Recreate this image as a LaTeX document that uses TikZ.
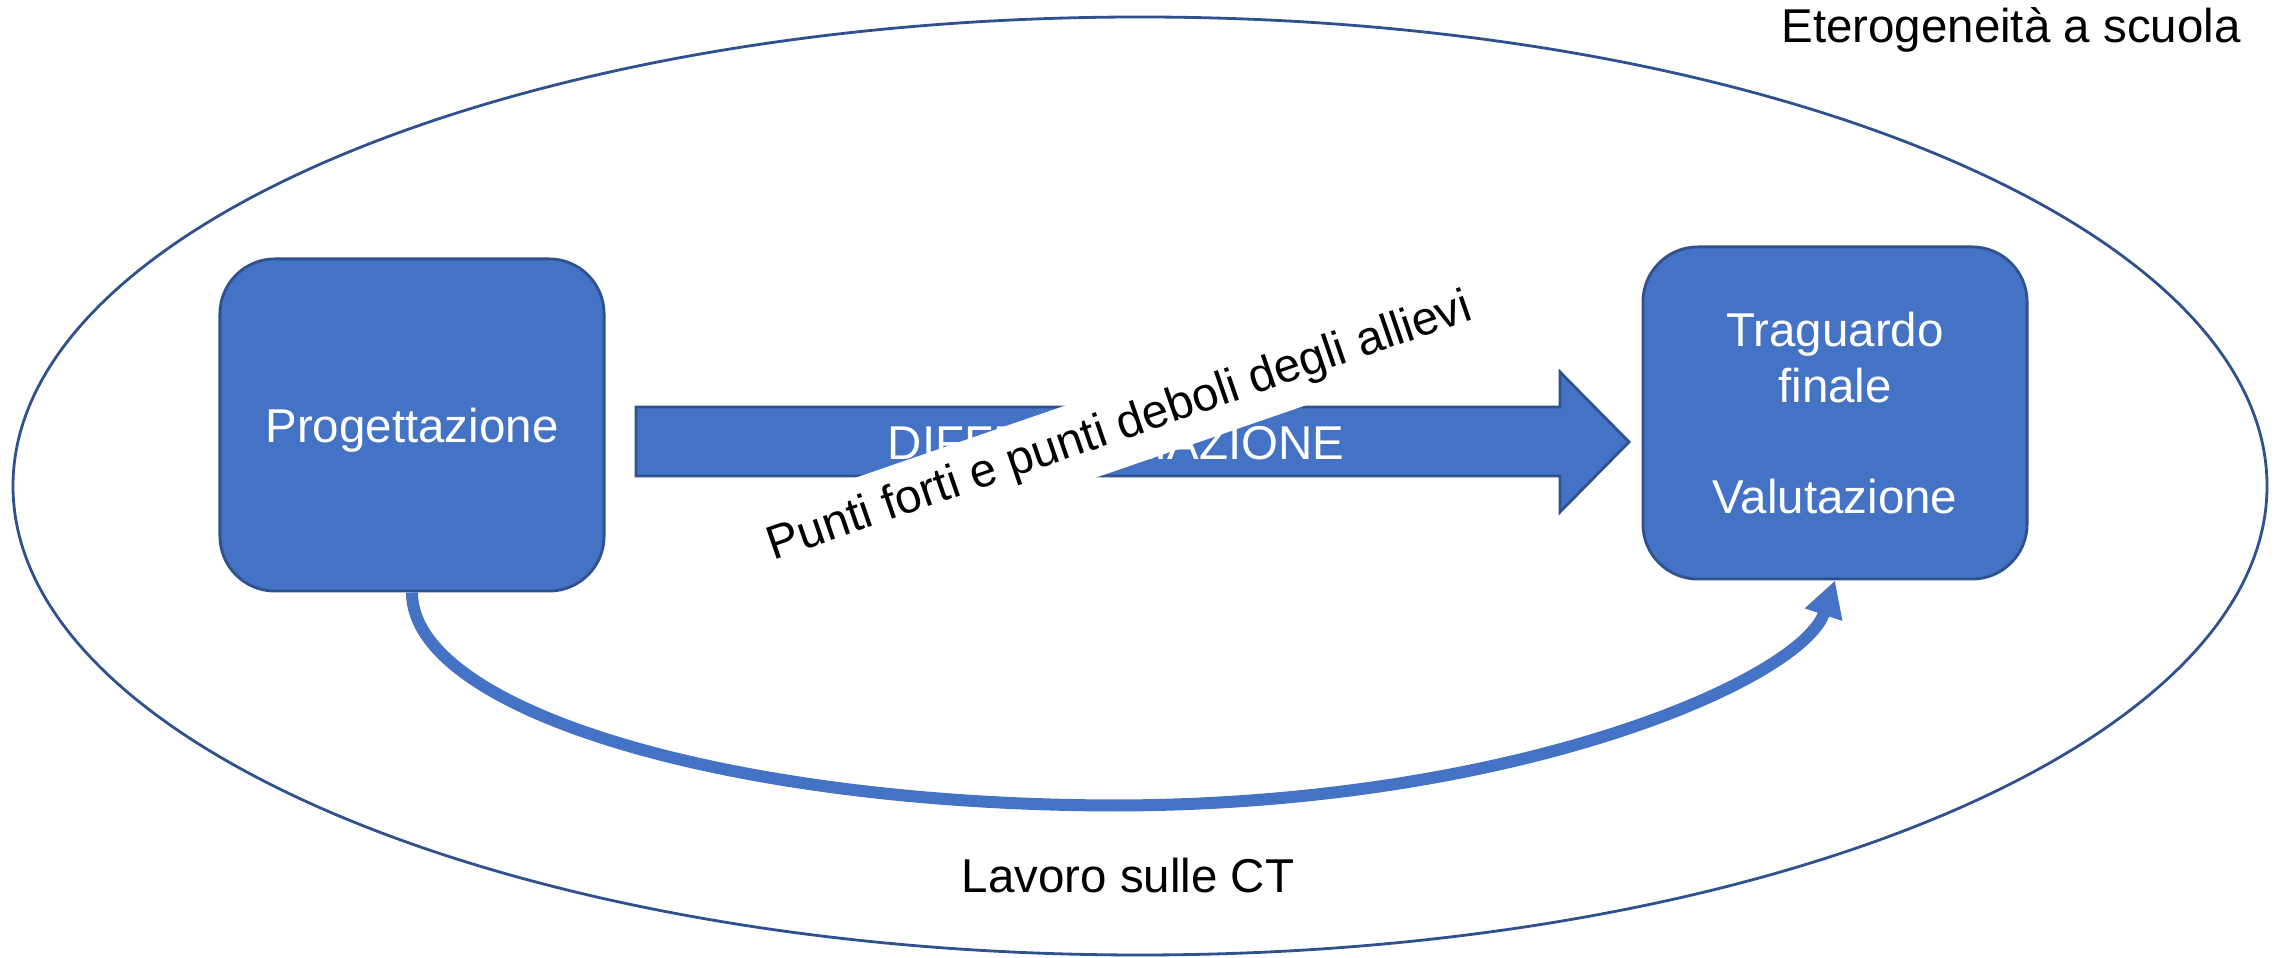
\documentclass[tikz,border=0pt]{standalone}
\usepackage{fontspec}
\setmainfont{Liberation Sans}
\usetikzlibrary{arrows.meta}
\definecolor{pfill}{HTML}{4472C4}
\definecolor{pline}{HTML}{2F528F}
\begin{document}
\begin{tikzpicture}[x=0.01cm,y=0.01cm,
  every node/.style={font=\fontsize{13.5}{15.9}\selectfont},
  blockbox/.style={draw=pline, line width=0.8pt, fill=pfill, rounded corners=0.55cm,
    minimum width=3.84cm, minimum height=3.32cm, text=white, inner sep=0pt, align=center},
  bigarrow/.style={draw=pline, line width=0.8pt, fill=pfill},
  curvearrow/.style={draw=pfill, line width=0.12cm, -{Triangle[length=0.36cm,width=0.37cm]}},
  outer/.style={draw=pline, line width=0.8pt}]
\useasboundingbox (0,0) rectangle (2282,958);
% outer ellipse
\draw[outer] (1140,472) ellipse [x radius=1127, y radius=469];
% boxes
\node[blockbox, text depth=0pt] (prog) at (412,533) {Progettazione};
\node[blockbox] (trag) at (1835,545) {Traguardo\\finale\\[15.9pt]Valutazione};
% big arrow
\draw[bigarrow] (636,551) -- (1560,551) -- (1560,586) -- (1629,516) -- (1560,446) -- (1560,482) -- (636,482) -- cycle;
\node[text=white, anchor=base] (diff) at (1116,498) {DIFFERENZIAZIONE};
% rotated label with white band
\node[rotate=19, fill=white, inner sep=0pt, minimum height=0.78cm, text=black] (punti) at (1120,530) {Punti forti e punti deboli degli allievi};
% curved arrow
\coordinate (low) at (1120,154);
\draw[curvearrow] (prog.south) arc[start angle=180, end angle=270, x radius=707, y radius=213]
  .. controls (1520,154) and (1802,279) .. (trag.south);
% labels
\node[anchor=base east] (het) at (2253,915) {Eterogeneità a scuola};
\node[anchor=base] (lav) at (1128,65) {Lavoro sulle CT};
\end{tikzpicture}
\end{document}
